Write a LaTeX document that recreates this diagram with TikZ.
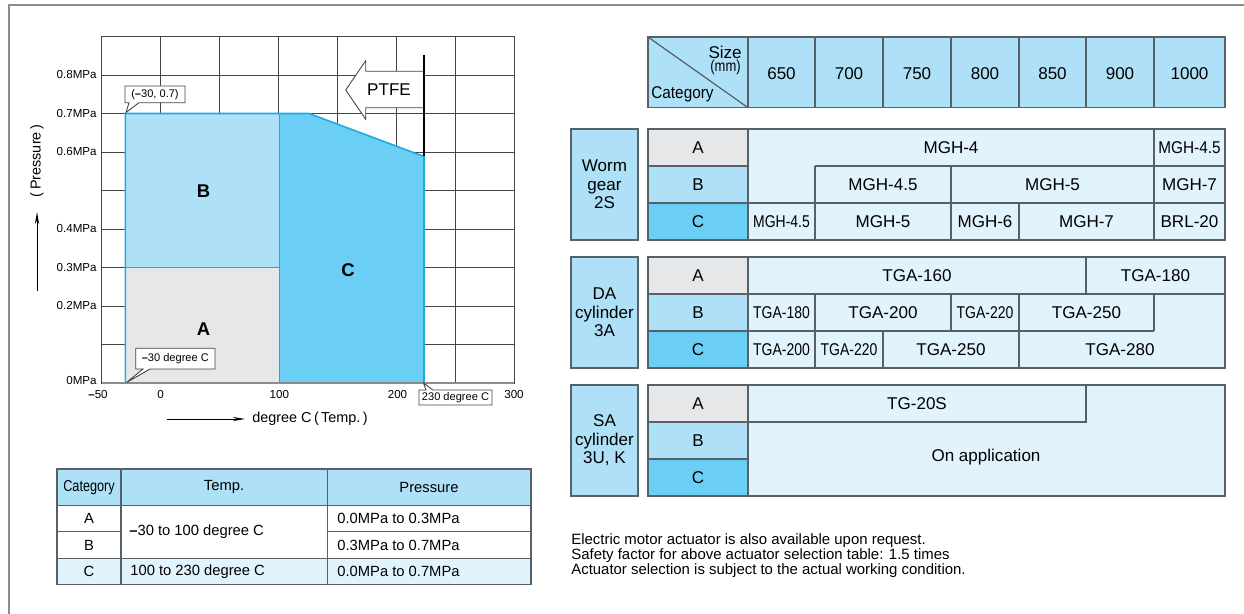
\documentclass[tikz,border=0pt]{standalone}
\usepackage{fontspec}
\usepackage{graphicx}
\setmainfont{Liberation Sans}
\usetikzlibrary{positioning, shapes, arrows.meta, calc}

\definecolor{colA}{HTML}{E6E7E8}
\definecolor{colB}{HTML}{AEE0F7}
\definecolor{colC}{HTML}{6BCFF5}
\definecolor{pale}{HTML}{E1F3FC}
\definecolor{edgeblue}{HTML}{1EA9E1}
\definecolor{gridgray}{HTML}{444444}
\definecolor{tabgray}{HTML}{56616A}
\definecolor{framegray}{HTML}{8C8C8C}

\newcommand{\narrow}[1]{\scalebox{0.82}[1]{#1}}

\begin{document}
\begin{tikzpicture}[
    x=0.02cm, y=-0.02cm,
    gridline/.style={draw=gridgray, line width=0.5pt},
    tabline/.style={draw=tabgray, line width=0.7pt},
    edgeline/.style={draw=edgeblue, line width=0.9pt},
    ticklabel/.style={font=\fontsize{6.6}{7}\selectfont, inner sep=0pt},
    regionlabel/.style={font=\fontsize{10.5}{12}\selectfont\bfseries},
    callout/.style={font=\fontsize{6.3}{7}\selectfont, inner sep=0pt},
    axislabel/.style={font=\fontsize{8.2}{9}\selectfont, inner sep=0pt},
    celltext/.style={font=\fontsize{9.7}{10.5}\selectfont, inner sep=0pt},
    smalltext/.style={font=\fontsize{8.4}{9.5}\selectfont, inner sep=0pt},
    notetext/.style={font=\fontsize{8.5}{9}\selectfont, inner sep=0pt, anchor=west},
    myarrow/.style={-{Stealth[length=7pt, width=2.4pt]}}
]
\useasboundingbox (0,0) rectangle (1244,614);

% frame
\draw[framegray, line width=1pt] (9,614) -- (9,5) -- (1244,5);

% chart grid
\draw[gridline] (101.7,36.5) rectangle (514.3,383);
\foreach \i in {1,...,6}
    \draw[gridline] ({101.7+58.94*\i},36.5) -- ({101.7+58.94*\i},383);
\foreach \j in {1,...,8}
    \draw[gridline] (101.7,{383-38.5*\j}) -- (514.3,{383-38.5*\j});

% regions
\fill[colA] (125.3,267.5) rectangle (279.3,383);
\fill[colB] (125.3,113.5) rectangle (279.3,267.5);
\fill[colC] (279.3,113.5) -- (309,113.5) -- (424,156.5) -- (424,383) -- (279.3,383) -- cycle;
\draw[edgeline] (125.3,383) -- (125.3,113.5) -- (309,113.5) -- (424,156.5) -- (424,383);
\draw[edgeline] (125.3,267.5) -- (279.3,267.5);
\draw[edgeline] (279.3,113.5) -- (279.3,383);
\draw[draw=framegray, line width=0.9pt] (101.7,383) -- (514.3,383);

\node[regionlabel] (rega) at (203.5,329) {A};
\node[regionlabel] (regb) at (203.5,191) {B};
\node[regionlabel] (regc) at (348,270) {C};

% PTFE arrow
\draw[fill=white, draw=gridgray, line width=0.5pt] (424,71.3) -- (365.7,71.3) -- (365.7,60.7) -- (345.7,90)
    -- (365.7,119.3) -- (365.7,107.7) -- (424,107.7);
\draw[line width=0.8pt] (424,55) -- (424,156.5);
\node[font=\fontsize{9.7}{11}\selectfont, inner sep=0pt] (ptfe) at (389,90) {PTFE};

% tick labels
\foreach \v/\y in {0.8/75, 0.7/113.5, 0.6/152, 0.4/229, 0.3/267.5, 0.2/306}
    \node[ticklabel, anchor=east] (ylab\v) at (97,\y) {\v MPa};
\node[ticklabel, anchor=east] (ylab0) at (97,381) {0MPa};
\foreach \t/\x in {0/160.7, 100/279.3, 200/397.5, 300/514}
    \node[ticklabel] (xlab\t) at (\x,395) {\t};
\node[ticklabel] (xlabm50) at (98,395) {\textbf{–}50};

% callouts
\draw[fill=white, draw=gridgray, line width=0.5pt] (129,102.7) -- (126,112.5) -- (139,102.7) -- (185,102.7)
    -- (185,86) -- (125,86) -- (125,102.7) -- cycle;
\node[callout] (pointa) at (155,94.3) {(\textbf{–}30, 0.7)};
\draw[fill=white, draw=gridgray, line width=0.5pt] (143,369) -- (126.5,382.5) -- (150,369) -- (215,369)
    -- (215,348.3) -- (135.7,348.3) -- (135.7,369) -- cycle;
\node[callout] (pointb) at (175.3,358.6) {\textbf{–}30 degree C};
\draw[fill=white, draw=gridgray, line width=0.5pt] (426,390) -- (423.5,383) -- (433,390) -- (492,390)
    -- (492,405) -- (419,405) -- (419,390) -- cycle;
\node[callout] (pointc) at (455.5,397.5) {230 degree C};

% axis titles
\draw[myarrow, line width=0.5pt] (37,291) -- (37,212);
\node[axislabel, rotate=90] (ytitle) at (37,161) {(\,Pressure\,)};
\draw[myarrow, line width=0.5pt] (166.7,419) -- (245,419);
\node[axislabel, anchor=west] (xtitle) at (252,419) {degree C\,(\,Temp.\,)};

% category table
\fill[colB] (57,469) rectangle (531,505.7);
\fill[pale] (57,558.3) rectangle (531,584.3);
\draw[tabline] (57,469) rectangle (531,584.3);
\draw[tabline] (57,505.7) -- (531,505.7);
\draw[tabline] (57,558.3) -- (531,558.3);
\draw[tabline] (57,531.7) -- (121,531.7);
\draw[tabline] (327.3,531.7) -- (531,531.7);
\draw[tabline] (121,469) -- (121,584.3);
\draw[tabline] (327.3,469) -- (327.3,584.3);
\node[font=\fontsize{9}{10}\selectfont, inner sep=0pt] (hcat) at (89,487.3) {\scalebox{0.8}[1]{Category}};
\node[smalltext] (htemp) at (224,487.3) {Temp.};
\node[smalltext] (hpres) at (429,487.3) {Pressure};
\node[smalltext] (cata) at (89,518.7) {A};
\node[smalltext] (catb) at (89,545) {B};
\node[smalltext] (catc) at (89,571.3) {C};
\node[smalltext, anchor=west] (tempab) at (129,532) {\textbf{–}30 to 100 degree C};
\node[smalltext, anchor=west] (tempc) at (130,571.3) {100 to 230 degree C};
\node[smalltext, anchor=west] (presa) at (337,518.7) {0.0MPa to 0.3MPa};
\node[smalltext, anchor=west] (presb) at (337,545) {0.3MPa to 0.7MPa};
\node[smalltext, anchor=west] (presc) at (337,571.3) {0.0MPa to 0.7MPa};

% size header
\draw[tabline, fill=colB] (648,37) rectangle (1225,107.7);
\foreach \x in {748, 815, 883, 951, 1019, 1086, 1154}
    \draw[tabline] (\x,37) -- (\x,107.7);
\draw[tabline] (648,37) -- (748,107.7);
\node[celltext, anchor=east] (hsize) at (742,52) {Size};
\node[font=\fontsize{9}{9}\selectfont, inner sep=0pt, anchor=east] (hmm) at (741,67.5) {\narrow{(mm)}};
\node[celltext, anchor=west] (hcategory) at (651,94) {\scalebox{0.9}[1]{Category}};
\foreach \s/\x in {650/781.5, 700/849, 750/917, 800/985, 850/1052.5, 900/1120, 1000/1189.5}
    \node[celltext] (size\s) at (\x,74) {\s};

% actuator groups
\foreach \top/\name/\lab in {129/worm/{Worm\\gear\\2S}, 257/da/{DA\\cylinder\\3A}, 385/sa/{SA\\cylinder\\3U, K}} {
    \draw[tabline, fill=colB] (571,\top) rectangle (638,\top+111);
    \node[celltext, align=center] (\name-label) at (604.5,\top+55.5) {\lab};
    \fill[pale] (748,\top) rectangle (1225,\top+111);
    \fill[colA] (648,\top) rectangle (748,\top+37);
    \fill[colB] (648,\top+37) rectangle (748,\top+74);
    \fill[colC] (648,\top+74) rectangle (748,\top+111);
    \draw[tabline] (648,\top+37) -- (748,\top+37);
    \draw[tabline] (648,\top+74) -- (748,\top+74);
    \draw[tabline] (748,\top) -- (748,\top+111);
    \draw[tabline] (648,\top) rectangle (1225,\top+111);
    \node[celltext] (\name-a) at (698,\top+18.5) {A};
    \node[celltext] (\name-b) at (698,\top+55.5) {B};
    \node[celltext] (\name-c) at (698,\top+92.5) {C};
}

% worm gear cells
\draw[tabline] (815,166) -- (1225,166);
\draw[tabline] (748,203) -- (1225,203);
\draw[tabline] (1154,129) -- (1154,240);
\draw[tabline] (815,166) -- (815,240);
\draw[tabline] (951,166) -- (951,240);
\draw[tabline] (1019,203) -- (1019,240);
\node[celltext] (worma1) at (951,147.5) {MGH-4};
\node[celltext] (worma2) at (1189.5,147.5) {\scalebox{0.9}[1]{MGH-4.5}};
\node[celltext] (wormb1) at (883,184.5) {MGH-4.5};
\node[celltext] (wormb2) at (1052.5,184.5) {MGH-5};
\node[celltext] (wormb3) at (1189.5,184.5) {MGH-7};
\node[celltext] (wormc1) at (781.5,221.5) {\narrow{MGH-4.5}};
\node[celltext] (wormc2) at (883,221.5) {MGH-5};
\node[celltext] (wormc3) at (985,221.5) {MGH-6};
\node[celltext] (wormc4) at (1086.5,221.5) {MGH-7};
\node[celltext] (wormc5) at (1189.5,221.5) {BRL-20};

% double acting cells
\draw[tabline] (748,294) -- (1225,294);
\draw[tabline] (748,331) -- (1154,331);
\draw[tabline] (1086,257) -- (1086,294);
\draw[tabline] (815,294) -- (815,368);
\draw[tabline] (1019,294) -- (1019,368);
\draw[tabline] (951,294) -- (951,331);
\draw[tabline] (1154,294) -- (1154,331);
\draw[tabline] (883,331) -- (883,368);
\node[celltext] (daa1) at (917,275.5) {TGA-160};
\node[celltext] (daa2) at (1155.5,275.5) {TGA-180};
\node[celltext] (dab1) at (781.5,312.5) {\narrow{TGA-180}};
\node[celltext] (dab2) at (883,312.5) {TGA-200};
\node[celltext] (dab3) at (985,312.5) {\narrow{TGA-220}};
\node[celltext] (dab4) at (1086.5,312.5) {TGA-250};
\node[celltext] (dac1) at (781.5,349.5) {\narrow{TGA-200}};
\node[celltext] (dac2) at (849,349.5) {\narrow{TGA-220}};
\node[celltext] (dac3) at (951,349.5) {TGA-250};
\node[celltext] (dac4) at (1120,349.5) {TGA-280};

% single acting cells
\draw[tabline] (748,422) -- (1086,422) -- (1086,385);
\node[celltext] (saa1) at (917,403.5) {TG-20S};
\node[celltext] (sarest) at (986,457) {On application};

% notes
\node[notetext] (note1) at (571,541) {Electric motor actuator is also available upon request.};
\node[notetext] (note2) at (571,556) {Safety factor for above actuator selection table: 1.5 times};
\node[notetext] (note3) at (571,571) {Actuator selection is subject to the actual working condition.};

\end{tikzpicture}
\end{document}
